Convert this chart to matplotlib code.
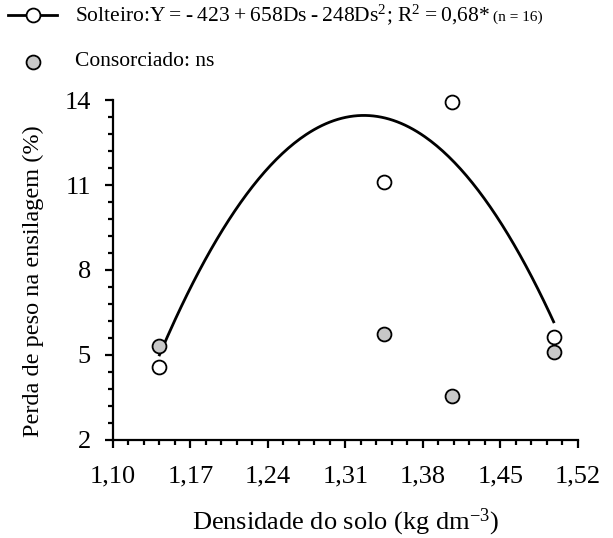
import numpy as np
import matplotlib
matplotlib.use("Agg")
import matplotlib.pyplot as plt
from matplotlib.lines import Line2D
from matplotlib.ticker import AutoMinorLocator, FuncFormatter

plt.rcParams['font.family'] = ['Liberation Serif', 'DejaVu Serif']
plt.rcParams['mathtext.fontset'] = 'custom'
plt.rcParams['mathtext.rm'] = 'Liberation Serif'
plt.rcParams['mathtext.it'] = 'Liberation Serif:italic'

# soil density (kg dm-3) and silage weight loss (%)
densidade = [1.142, 1.345, 1.406, 1.498]
solteiro = [4.56, 11.12, 13.94, 5.65]
consorciado = [5.33, 5.73, 3.55, 5.09]

# quadratic fit for the single crop
coef = [-423, 658, -248]
r2 = "0,68*"
n_obs = 16

x_ticks = [1.10, 1.17, 1.24, 1.31, 1.38, 1.45, 1.52]
y_ticks = [2, 5, 8, 11, 14]

fig = plt.figure(figsize=(6.13, 5.38), dpi=100)
ax = fig.add_axes([0.1843, 0.1822, 0.7586, 0.6319])

ds = np.linspace(min(densidade), max(densidade), 200)
ax.plot(ds, coef[0] + coef[1] * ds + coef[2] * ds ** 2, color='black', lw=2.0, zorder=2)

ax.plot(densidade, solteiro, 'o', ms=10, mfc='white', mec='black', mew=1.3, zorder=3, clip_on=False)
ax.plot(densidade, consorciado, 'o', ms=10, mfc='#c8c8c8', mec='black', mew=1.3, zorder=3, clip_on=False)

ax.set_xlim(x_ticks[0], x_ticks[-1])
ax.set_ylim(y_ticks[0], y_ticks[-1])
ax.set_xticks(x_ticks)
ax.set_yticks(y_ticks)
ax.xaxis.set_minor_locator(AutoMinorLocator(5))
ax.yaxis.set_minor_locator(AutoMinorLocator(5))
ax.xaxis.set_major_formatter(FuncFormatter(lambda v, p: f"{v:.2f}".replace('.', ',')))

for side in ['top', 'right']:
    ax.spines[side].set_visible(False)
for side in ['left', 'bottom']:
    ax.spines[side].set_linewidth(1.6)
ax.tick_params(which='major', direction='out', length=6, width=1.6, labelsize=19)
ax.tick_params(axis='x', which='major', pad=12)
ax.tick_params(axis='y', which='major', pad=10)
ax.tick_params(which='minor', direction='out', length=3.5, width=1.6)

ax.set_xlabel("Densidade do solo (kg dm$^{-3}$)", fontsize=19, labelpad=14)
ax.set_ylabel("Perda de peso na ensilagem (%)", fontsize=17.5)
ax.yaxis.set_label_coords(-0.148, 0.468)

# legend drawn by hand in figure pixels
W, H = 613, 538
def fx(px):
    return px / W
def fy(py):
    return 1 - py / H

fig.add_artist(Line2D([fx(8), fx(33), fx(57)], [fy(15)] * 3, color='black', lw=2.0,
                      marker='o', markevery=[1], ms=10, mfc='white', mec='black', mew=1.3,
                      transform=fig.transFigure))
fig.add_artist(Line2D([fx(33)], [fy(62)], lw=0, marker='o', ms=10, mfc='#c8c8c8',
                      mec='black', mew=1.3, transform=fig.transFigure))

sp = "\u2009"
eq = (f"Solteiro:Y{sp}={sp}-{sp}{abs(coef[0])}{sp}+{sp}{coef[1]}Ds{sp}-{sp}{abs(coef[2])}Ds$^2$; "
      f"R$^2${sp}={sp}{r2}")
t1 = fig.text(fx(75), fy(15), eq, fontsize=15.5, va='center', ha='left')
fig.canvas.draw()
bb = t1.get_window_extent()
fig.text(bb.x1 / W + 0.005, fy(17), f"(n = {n_obs})", fontsize=11, va='center', ha='left')
fig.text(fx(75), fy(62), "Consorciado: ns", fontsize=15.5, va='center', ha='left')

fig.savefig("out.png", dpi=100)
